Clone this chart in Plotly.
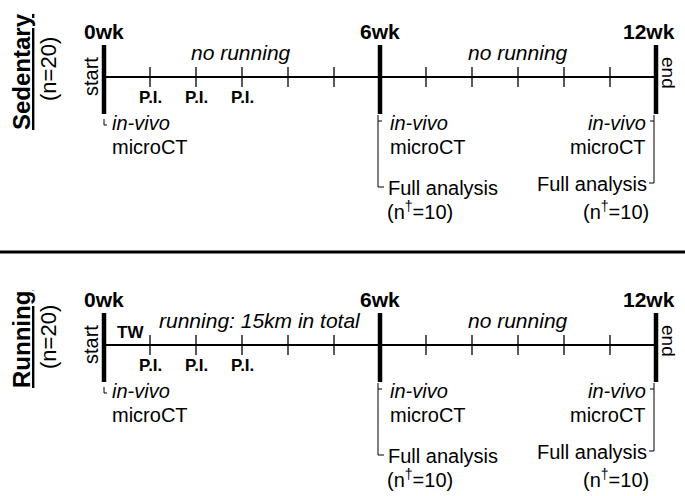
import plotly.graph_objects as go

# ---------------- data ----------------
groups = ["Sedentary", "Running"]
group_n = [20, 20]
analysis_n = [10, 10]
milestone_weeks = [0, 6, 12]
milestone_labels = ["0wk", "6wk", "12wk"]
minor_weeks = [1, 2, 3, 4, 5, 7, 8, 9, 10, 11]
pi_weeks = [1, 2, 3]
pi_label = "P.I."
period_mid_weeks = [[2.98, 9.0], [3.4, 9.0]]
period_labels = [["no running", "no running"],
                 ["running: 15km in total", "no running"]]
tw_label = ["", "TW"]

# ---------------- layout constants ----------------
W, H = 685, 496
PX0, PXW = 104, 46          # pixel of week 0, pixels per week
XMIN, XMAX = -PX0 / PXW, (W - PX0) / PXW
FONT = "Liberation Sans, Arial, sans-serif"
PANEL_DY = 268
px = 1 / PXW                # one pixel in week units

fig = go.Figure()
shapes, ann = [], []

def line(x0, y0, x1, y1, w, xref="x"):
    shapes.append(dict(type="line", xref=xref, yref="y", x0=x0, y0=y0, x1=x1, y1=y1,
                       line=dict(color="black", width=w)))

def text(x, y, s, size=20, xa="center", ya="middle", angle=0, xref="x"):
    ann.append(dict(x=x, y=y, xref=xref, yref="y", text=s, showarrow=False,
                    xanchor=xa, yanchor=ya, textangle=angle,
                    font=dict(family=FONT, size=size, color="black")))

for g, name in enumerate(groups):
    dy = PANEL_DY * g
    yl = 77 + dy
    # main axis
    line(milestone_weeks[0], yl, milestone_weeks[-1], yl, 2)
    for w in minor_weeks:
        line(w, yl - 10, w, yl + 10, 1.3)
    for w in milestone_weeks:
        line(w, yl - 32, w, yl + 37, 4.5)
    for w, lab in zip(milestone_weeks, milestone_labels):
        if w == milestone_weeks[-1]:
            text(w + 21 * px, yl - 46, f"<b>{lab}</b>", size=21, xa="right")
        else:
            text(w, yl - 46, f"<b>{lab}</b>", size=21)
    for w in pi_weeks:
        text(w, yl + 20, f"<b>{pi_label}</b>", size=17)
    # periods
    for k in range(2):
        text(period_mid_weeks[g][k], yl - 25, f"<i>{period_labels[g][k]}</i>", size=21)
    if tw_label[g]:
        text(0.57, yl - 13, f"<b>{tw_label[g]}</b>", size=17)
    # group labels
    text(XMIN + 21 * px, yl - 5, f"<b><u>{name}</u></b>", size=24, angle=-90)
    text(XMIN + 48 * px, yl - 8, f"(n={group_n[g]})", size=22, angle=-90)
    text(-13 * px, yl, "start", size=20, angle=-90)
    text(12 + 13 * px, yl - 4, "end", size=19, angle=90)
    # week 0 scan
    line(0, yl + 42, 0, yl + 48, 1)
    line(0, yl + 48, 3 * px, yl + 48, 1)
    text(6 * px, yl + 46, "<i>in-vivo</i>", xa="left")
    text(6 * px, yl + 70, "microCT", xa="left")
    # week 6 scan + analysis
    x6 = 6 - 2 * px
    line(x6, yl + 38, x6, yl + 110, 1)
    line(x6, yl + 44, x6 + 4 * px, yl + 44, 1)
    line(x6, yl + 110, x6 + 6 * px, yl + 110, 1)
    text(6 + 8 * px, yl + 46, "<i>in-vivo</i>", xa="left")
    text(6 + 8 * px, yl + 70, "microCT", xa="left")
    text(6 + 6 * px, yl + 111, "Full analysis", xa="left")
    text(6 + 5 * px, yl + 133, f"(n<sup>\u2020</sup>={analysis_n[g]})", xa="left")
    # week 12 scan + analysis
    x12 = 12 - 2 * px
    line(x12, yl + 38, x12, yl + 106, 1)
    line(x12 - 4 * px, yl + 44, x12, yl + 44, 1)
    line(x12 - 5 * px, yl + 106, x12, yl + 106, 1)
    text(12 - 8 * px, yl + 46, "<i>in-vivo</i>", xa="right")
    text(12 - 8 * px, yl + 70, "microCT", xa="right")
    text(12 - 7 * px, yl + 107, "Full analysis", xa="right")
    text(12 - 5 * px, yl + 133, f"(n<sup>\u2020</sup>={analysis_n[g]})", xa="right")

# separator between panels
shapes.append(dict(type="line", xref="paper", yref="y", x0=0, x1=1, y0=252, y1=252,
                   line=dict(color="black", width=3)))

fig.update_layout(
    width=W, height=H, margin=dict(l=0, r=0, t=0, b=0),
    paper_bgcolor="white", plot_bgcolor="white",
    xaxis=dict(range=[XMIN, XMAX], visible=False, fixedrange=True),
    yaxis=dict(range=[H, 0], visible=False, fixedrange=True),
    shapes=shapes, annotations=ann, showlegend=False,
)
fig.write_html("out.html", config={"displayModeBar": False},
               post_script="document.body.style.margin='0';document.body.style.overflow='hidden';")
